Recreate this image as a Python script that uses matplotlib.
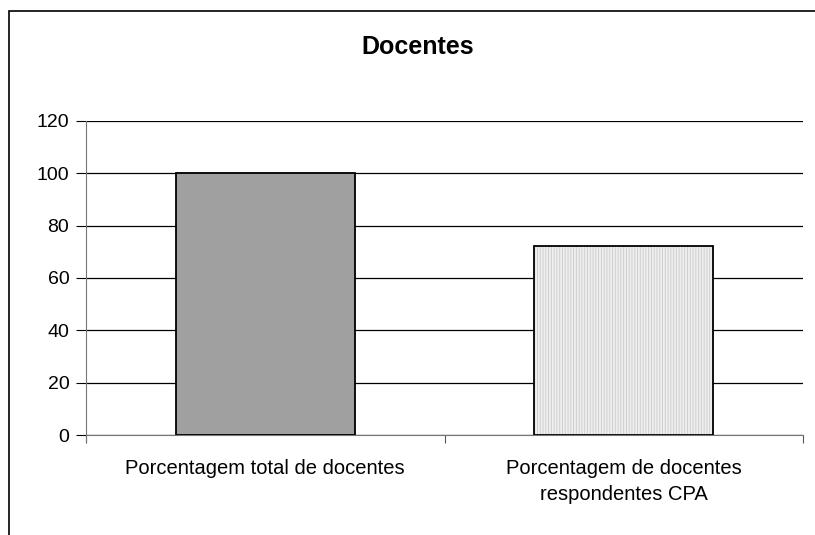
import matplotlib
matplotlib.use("Agg")
import matplotlib.pyplot as plt
from matplotlib.patches import Rectangle

categories = ["Porcentagem total de docentes", "Porcentagem de docentes\nrespondentes CPA"]
values = [100, 72.2]
yticks = [0, 20, 40, 60, 80, 100, 120]
title = "Docentes"

plt.rcParams['font.family'] = ['Liberation Sans', 'DejaVu Sans']
plt.rcParams['hatch.linewidth'] = 0.7

fig = plt.figure(figsize=(8.15, 5.35), dpi=100)
W, H = 815, 535
# outer chart frame (cropped on right and bottom)
fig.patches.append(Rectangle((9 / W, -0.1), 1.2, 1 - 11 / H + 0.1, transform=fig.transFigure,
                             fill=False, edgecolor='black', linewidth=1.2))

ax = fig.add_axes([86 / W, 1 - 435 / H, (803 - 86) / W, (435 - 121) / H])
pos = [0.5, 1.5]
ax.bar(pos[0], values[0], width=0.5, color='#a0a0a0', edgecolor='black', linewidth=1.3, zorder=3)
# hatched fill in light gray, then black outline on top
ax.bar(pos[1], values[1], width=0.5, color='#efefef', edgecolor='#cfcfcf', linewidth=0,
       hatch='||||||', zorder=3)
ax.bar(pos[1], values[1], width=0.5, fill=False, edgecolor='black', linewidth=1.3, zorder=4)

ax.set_xlim(0, 2)
ax.set_ylim(0, 120)
ax.set_yticks(yticks)
ax.set_yticklabels([str(v) for v in yticks], fontsize=14)
ax.grid(axis='y', color='black', linewidth=0.9, zorder=0)
ax.set_xticks([0, 1, 2])
ax.set_xticklabels([])
ax.set_xticks(pos, minor=True)
ax.set_xticklabels(categories, minor=True, fontsize=14.5, linespacing=1.5)
ax.tick_params(axis='x', which='minor', length=0, pad=17)
ax.tick_params(axis='x', which='major', length=6, direction='out', color='#555555')
ax.tick_params(axis='y', length=7, direction='out', color='black', pad=5)
for s in ['top', 'right']:
    ax.spines[s].set_visible(False)
ax.spines['left'].set_color('#777777')
ax.spines['bottom'].set_color('#777777')
ax.spines['left'].set_bounds(-2.3, 120)

fig.text(418 / W, 1 - 47 / H, title, ha='center', va='center', fontsize=18, fontweight='bold')

fig.savefig("out.png", dpi=100)
